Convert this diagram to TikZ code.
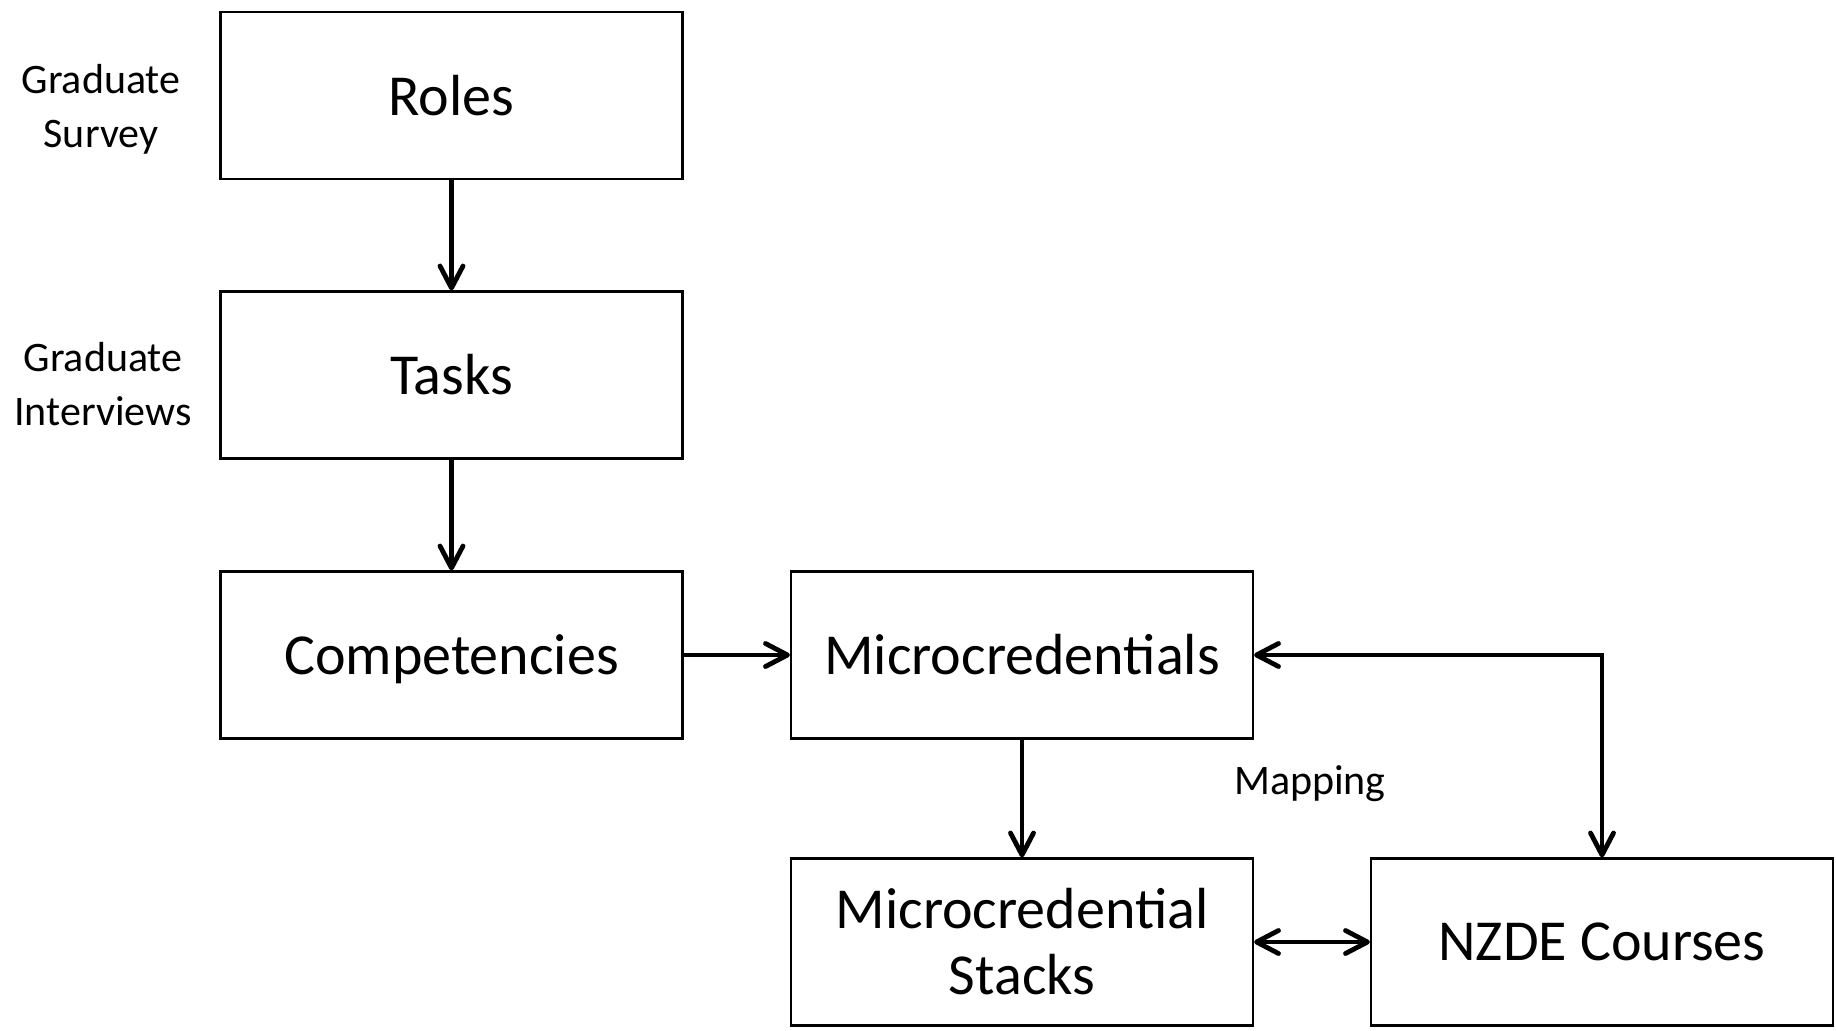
\documentclass[tikz,border=0pt]{standalone}
\usepackage{fontspec}
\setmainfont{Carlito}
\usetikzlibrary{arrows.meta}

\tikzset{every picture/.style={line width=1.1pt}}
\tikzset{box/.style={draw, line width=1.1pt, minimum width=231pt, minimum height=83.5pt, inner sep=0pt, align=center, font=\fontsize{29}{33}\selectfont}}
\tikzset{side/.style={inner sep=0pt, align=center, font=\fontsize{21}{27}\selectfont}}
\tikzset{barb/.tip={Straight Barb[length=11pt,width=11.5pt,line width=2.4pt,round]}}
\tikzset{link/.style={line width=2.4pt, -barb}}
\tikzset{twolink/.style={line width=2.4pt, barb-barb}}

\begin{document}
\begin{tikzpicture}[x=0.5pt,y=0.5pt,yscale=-1,xscale=1]
\useasboundingbox (0,0) rectangle (1836,1031); %set diagram size to the reference

%Shape: Rectangle [roles]
\node (roles) at (451.5,95.5) [box] {Roles};
%Shape: Rectangle [tasks]
\node (tasks) at (451.5,375) [box] {Tasks};
%Shape: Rectangle [competencies]
\node (comp) at (451.5,655) [box, text depth=0pt] {Competencies};
%Shape: Rectangle [microcredentials]
\node (micro) at (1022,655) [box] {Microcredentials};
%Shape: Rectangle [stacks]
\node (stacks) at (1022,942) [box] {Microcredential\\Stacks};
%Shape: Rectangle [courses]
\node (nzde) at (1602,942) [box] {NZDE Courses};

% Text Node
\node (survey) at (101,109.5) [side] {Graduate\\Survey};
% Text Node
\node (interviews) at (103,384) [side] {Graduate\\Interviews};
% Text Node
\node (mapping) at (1310,783.5) [side] {Mapping};

%Straight Lines
\draw [link] (roles) -- (tasks);
\draw [link] (tasks) -- (comp);
\draw [link] (comp) -- (micro);
\draw [link] (micro) -- (stacks);
\draw [twolink] (micro.east) -| (nzde.north); % mapping
\draw [twolink] (stacks) -- (nzde);

\end{tikzpicture}
\end{document}
